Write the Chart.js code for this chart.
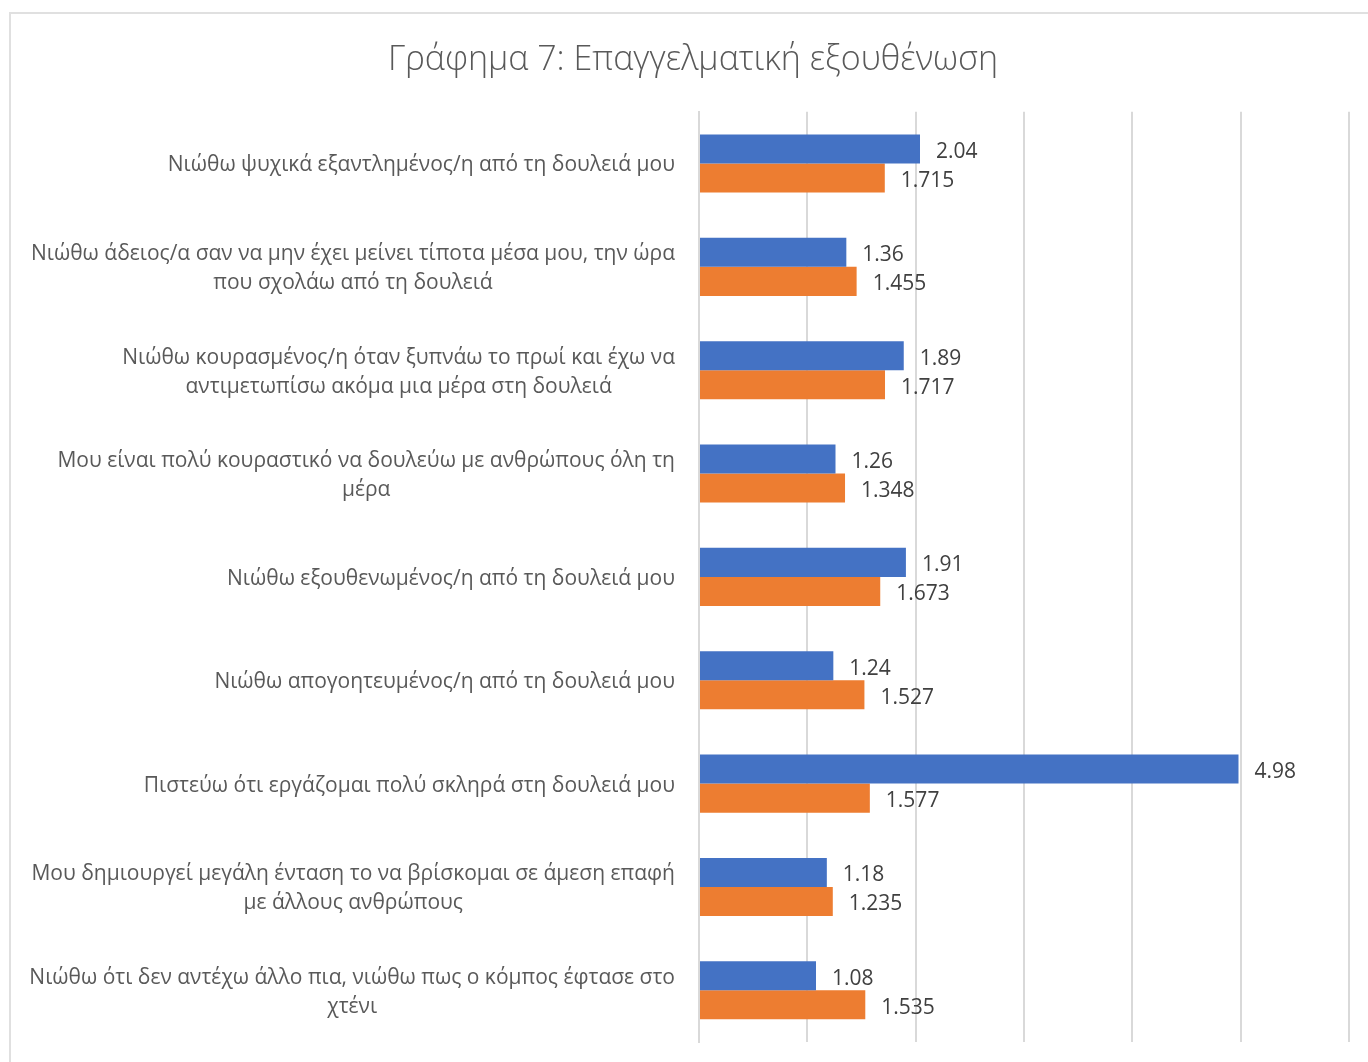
<!DOCTYPE html>
<html>
<head>
<meta charset="utf-8">
<script src="https://cdn.jsdelivr.net/npm/chart.js@4.4.0/dist/chart.umd.min.js"></script>
<style>
  html, body { margin: 0; padding: 0; background: #fff; overflow: hidden; }
  #frame { position: absolute; left: 9px; top: 12px; width: 1400px; height: 1100px; border: 2px solid #e0e0e0; }
  #wrap { position: absolute; left: 0; top: 0; width: 1368px; height: 1062px; }
</style>
</head>
<body>
<div id="frame"></div>
<div id="wrap"><canvas id="chart"></canvas></div>
<script>
// Categories (multi-line ones as arrays, wrapped like the original)
const categories = [
    'Νιώθω ψυχικά εξαντλημένος/η από τη δουλειά μου',
    ['Νιώθω άδειος/α σαν να μην έχει μείνει τίποτα μέσα μου, την ώρα', 'που σχολάω από τη δουλειά'],
    ['Νιώθω κουρασμένος/η όταν ξυπνάω το πρωί και έχω να', 'αντιμετωπίσω ακόμα μια μέρα στη δουλειά'],
    ['Μου είναι πολύ κουραστικό να δουλεύω με ανθρώπους όλη τη', 'μέρα'],
    'Νιώθω εξουθενωμένος/η από τη δουλειά μου',
    'Νιώθω απογοητευμένος/η από τη δουλειά μου',
    'Πιστεύω ότι εργάζομαι πολύ σκληρά στη δουλειά μου',
    ['Μου δημιουργεί μεγάλη ένταση το να βρίσκομαι σε άμεση επαφή', 'με άλλους ανθρώπους'],
    ['Νιώθω ότι δεν αντέχω άλλο πια, νιώθω πως ο κόμπος έφτασε στο', 'χτένι']
];
const seriesBlue = [2.04, 1.36, 1.89, 1.26, 1.91, 1.24, 4.98, 1.18, 1.08];
const seriesOrange = [1.715, 1.455, 1.717, 1.348, 1.673, 1.527, 1.577, 1.235, 1.535];
const seriesNames = ['Σειρά 1', 'Σειρά 2'];
const chartTitle = 'Γράφημα 7: Επαγγελματική εξουθένωση';

const FONT = '"Open Sans"';
const LABEL_SIZE = 21;
const LINE_H = 29;

// Category labels: block right-aligned against the axis, lines centred inside the block (Excel style)
const categoryLabels = {
    id: 'categoryLabels',
    afterDraw(chart) {
        const ctx = chart.ctx;
        const yScale = chart.scales.y;
        ctx.save();
        ctx.font = `${LABEL_SIZE}px ${FONT}`;
        ctx.fillStyle = '#595959';
        ctx.textBaseline = 'middle';
        ctx.textAlign = 'center';
        categories.forEach((label, i) => {
            const lines = Array.isArray(label) ? label : [label];
            const blockW = Math.max(...lines.map(l => ctx.measureText(l).width));
            const cx = yScale.right - 24 - blockW / 2;
            const y0 = yScale.getPixelForTick(i) + 2 - (lines.length - 1) * LINE_H / 2;
            lines.forEach((l, j) => ctx.fillText(l, cx, y0 + j * LINE_H));
        });
        ctx.restore();
    }
};

// Value labels at the end of each bar
const valueLabels = {
    id: 'valueLabels',
    afterDatasetsDraw(chart) {
        const ctx = chart.ctx;
        ctx.save();
        ctx.font = `${LABEL_SIZE}px ${FONT}`;
        ctx.fillStyle = '#404040';
        ctx.textBaseline = 'middle';
        ctx.textAlign = 'left';
        chart.data.datasets.forEach((ds, di) => {
            chart.getDatasetMeta(di).data.forEach((bar, i) => {
                ctx.fillText(String(ds.data[i]), bar.x + 16, bar.y + 3);
            });
        });
        ctx.restore();
    }
};

new Chart(document.getElementById('chart'), {
    type: 'bar',
    data: {
        labels: categories,
        datasets: [
            { label: seriesNames[0], data: seriesBlue, backgroundColor: '#4472C4' },
            { label: seriesNames[1], data: seriesOrange, backgroundColor: '#ED7D31' }
        ]
    },
    options: {
        indexAxis: 'y',
        responsive: true,
        maintainAspectRatio: false,
        animation: false,
        categoryPercentage: 0.562,
        barPercentage: 1,
        layout: { padding: { left: 37, right: 19, top: 0, bottom: 20 } },
        plugins: {
            legend: { display: false },
            tooltip: { enabled: false },
            title: {
                display: true,
                text: chartTitle,
                color: '#595959',
                font: { family: 'Open Sans', size: 34, weight: '300' },
                padding: { top: 40, bottom: 31 }
            }
        },
        scales: {
            x: {
                min: 0,
                max: 6,
                ticks: { display: false, stepSize: 1 },
                grid: { color: '#d9d9d9', lineWidth: 2, drawTicks: false },
                border: { display: false }
            },
            y: {
                ticks: { display: false },
                grid: { display: false, drawTicks: false },
                border: { color: '#d9d9d9', width: 2 },
                afterFit(scale) { scale.width = 662; }
            }
        }
    },
    plugins: [categoryLabels, valueLabels]
});
</script>
</body>
</html>
